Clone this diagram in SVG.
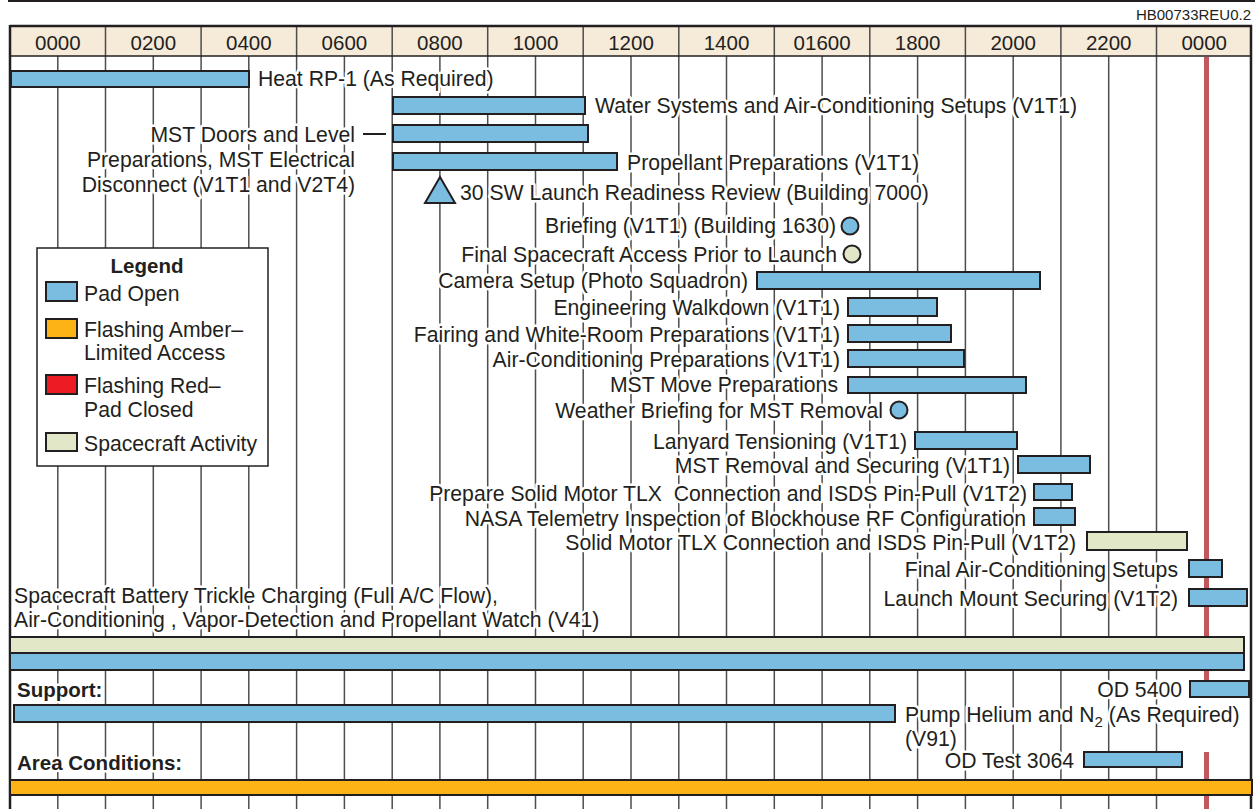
<svg xmlns="http://www.w3.org/2000/svg" width="1255" height="809" viewBox="0 0 1255 809">
<style>
.t{font-family:"Liberation Sans",Arial,Helvetica,sans-serif;font-size:21.2px;fill:#231f20;stroke:#fff;stroke-width:5px;paint-order:stroke;stroke-linejoin:round}
.e{text-anchor:end}
.b{font-weight:bold;font-size:20.5px}
.h{font-family:"Liberation Sans",Arial,Helvetica,sans-serif;font-size:20.5px;fill:#231f20;text-anchor:middle}
.g{stroke:#4d4d4d;stroke-width:1.5}
.bar{stroke:#231f20;stroke-width:2}
.bl{fill:#7abde0}
.gr{fill:#e1e7c7}
.am{fill:#fcb316}
.rd{fill:#ed1c24}
</style>
<rect width="1255" height="809" fill="#fff"/>
<line x1="8" y1="1" x2="1255" y2="1" stroke="#231f20" stroke-width="2"/>
<text x="1251" y="20" style="font-family:'Liberation Sans',Arial,sans-serif;font-size:15px;fill:#231f20" text-anchor="end">HB00733REU0.2</text>
<g id="grid">
<rect x="10" y="26" width="1242" height="30" fill="#f6ead9"/>
<g class="g">
<line x1="57.8" y1="56" x2="57.8" y2="809"/><line x1="105.5" y1="26" x2="105.5" y2="809"/><line x1="153.3" y1="56" x2="153.3" y2="809"/><line x1="201.1" y1="26" x2="201.1" y2="809"/><line x1="248.8" y1="56" x2="248.8" y2="809"/><line x1="296.6" y1="26" x2="296.6" y2="809"/><line x1="344.4" y1="56" x2="344.4" y2="809"/><line x1="392.2" y1="26" x2="392.2" y2="809"/><line x1="439.9" y1="56" x2="439.9" y2="809"/><line x1="487.7" y1="26" x2="487.7" y2="809"/><line x1="535.5" y1="56" x2="535.5" y2="809"/><line x1="583.2" y1="26" x2="583.2" y2="809"/><line x1="631" y1="56" x2="631" y2="809"/><line x1="678.8" y1="26" x2="678.8" y2="809"/><line x1="726.5" y1="56" x2="726.5" y2="809"/><line x1="774.3" y1="26" x2="774.3" y2="809"/><line x1="822.1" y1="56" x2="822.1" y2="809"/><line x1="869.8" y1="26" x2="869.8" y2="809"/><line x1="917.6" y1="56" x2="917.6" y2="809"/><line x1="965.4" y1="26" x2="965.4" y2="809"/><line x1="1013.2" y1="56" x2="1013.2" y2="809"/><line x1="1060.9" y1="26" x2="1060.9" y2="809"/><line x1="1108.7" y1="56" x2="1108.7" y2="809"/><line x1="1156.5" y1="26" x2="1156.5" y2="809"/>
</g>
<line x1="10" y1="56" x2="1252" y2="56" stroke="#231f20" stroke-width="1.5"/>
<line x1="10" y1="26" x2="1252" y2="26" stroke="#231f20" stroke-width="2.5"/>
<line x1="10" y1="25" x2="10" y2="809" stroke="#231f20" stroke-width="2.5"/>
<line x1="1251" y1="25" x2="1251" y2="809" stroke="#231f20" stroke-width="2.5"/>
<text class="h" x="57.8" y="50">0000</text><text class="h" x="153.3" y="50">0200</text><text class="h" x="248.8" y="50">0400</text><text class="h" x="344.4" y="50">0600</text><text class="h" x="439.9" y="50">0800</text><text class="h" x="535.5" y="50">1000</text><text class="h" x="631" y="50">1200</text><text class="h" x="726.5" y="50">1400</text><text class="h" x="822.1" y="50">01600</text><text class="h" x="917.6" y="50">1800</text><text class="h" x="1013.2" y="50">2000</text><text class="h" x="1108.7" y="50">2200</text><text class="h" x="1204.2" y="50">0000</text>
<line x1="1206.5" y1="57" x2="1206.5" y2="697" stroke="#c1575f" stroke-width="5"/>
<line x1="1206.5" y1="752" x2="1206.5" y2="809" stroke="#c1575f" stroke-width="5"/>
</g>
<g id="n-heat"><rect class="bar bl" x="11" y="71" width="238" height="16"/><text class="t" x="258" y="86">Heat RP-1 (As Required)</text></g>
<g id="n-water"><rect class="bar bl" x="393" y="97" width="192" height="17"/><text class="t" x="595" y="113">Water Systems and Air-Conditioning Setups (V1T1)</text></g>
<g id="n-mstdoors"><rect class="bar bl" x="393" y="125" width="195" height="17"/><line x1="363" y1="134" x2="386" y2="134" stroke="#231f20" stroke-width="2"/><text class="t e" x="355" y="142">MST Doors and Level</text><text class="t e" x="355" y="167">Preparations, MST Electrical</text><text class="t e" x="355" y="192">Disconnect (V1T1 and V2T4)</text></g>
<g id="n-prop"><rect class="bar bl" x="393" y="153" width="224" height="17"/><text class="t" x="627" y="170">Propellant Preparations (V1T1)</text></g>
<g id="n-30sw"><polygon class="bar bl" points="440,177 455,203 425,203"/><text class="t" x="460" y="200">30 SW Launch Readiness Review (Building 7000)</text></g>
<g id="n-brief"><circle class="bar bl" cx="850" cy="226" r="8.5"/><text class="t e" x="836" y="233">Briefing (V1T1) (Building 1630)</text></g>
<g id="n-final"><circle class="bar gr" cx="852" cy="254" r="8.5"/><text class="t e" x="837" y="262">Final Spacecraft Access Prior to Launch</text></g>
<g id="n-camera"><rect class="bar bl" x="757" y="272" width="283" height="17"/><text class="t e" x="748" y="288">Camera Setup (Photo Squadron)</text></g>
<g id="n-eng"><rect class="bar bl" x="848" y="298" width="89" height="18"/><text class="t e" x="840" y="315">Engineering Walkdown (V1T1)</text></g>
<g id="n-fair"><rect class="bar bl" x="848" y="325" width="103" height="17"/><text class="t e" x="840" y="342">Fairing and White-Room Preparations (V1T1)</text></g>
<g id="n-aircond"><rect class="bar bl" x="848" y="350" width="116" height="17"/><text class="t e" x="840" y="367">Air-Conditioning Preparations (V1T1)</text></g>
<g id="n-mstmove"><rect class="bar bl" x="848" y="377" width="178" height="16"/><text class="t e" x="838" y="392">MST Move Preparations</text></g>
<g id="n-weather"><circle class="bar bl" cx="899" cy="410" r="8.5"/><text class="t e" x="883" y="418">Weather Briefing for MST Removal</text></g>
<g id="n-lanyard"><rect class="bar bl" x="915" y="432" width="102" height="17"/><text class="t e" x="907" y="449">Lanyard Tensioning (V1T1)</text></g>
<g id="n-mstrem"><rect class="bar bl" x="1018" y="456" width="72" height="17"/><text class="t e" x="1010" y="473">MST Removal and Securing (V1T1)</text></g>
<g id="n-prepsolid"><rect class="bar bl" x="1034" y="484" width="38" height="16"/><text class="t e" x="1027" y="501" style="white-space:pre">Prepare Solid Motor TLX  Connection and ISDS Pin-Pull (V1T2)</text></g>
<g id="n-nasa"><rect class="bar bl" x="1034" y="508" width="41" height="17"/><text class="t e" x="1026" y="526">NASA Telemetry Inspection of Blockhouse RF Configuration</text></g>
<g id="n-solid"><rect class="bar gr" x="1087" y="532" width="100" height="18"/><text class="t e" x="1076" y="550">Solid Motor TLX Connection and ISDS Pin-Pull (V1T2)</text></g>
<g id="n-finalair"><rect class="bar bl" x="1189" y="560" width="33" height="17"/><text class="t e" x="1178" y="577">Final Air-Conditioning Setups</text></g>
<g id="n-launch"><rect class="bar bl" x="1189" y="589" width="58" height="17"/><text class="t e" x="1178" y="606">Launch Mount Securing (V1T2)</text></g>
<g id="n-battery"><text class="t" x="14" y="603">Spacecraft Battery Trickle Charging (Full A/C Flow),</text><text class="t" x="14" y="627">Air-Conditioning , Vapor-Detection and Propellant Watch (V41)</text></g>
<g id="n-fullbars"><rect class="bar gr" x="10" y="637" width="1234" height="16"/><rect class="bar bl" x="10" y="653" width="1234" height="17"/></g>
<g id="n-support"><text class="t b" x="17" y="697">Support:</text></g>
<g id="n-od5400"><rect class="bar bl" x="1190" y="681" width="59" height="16"/><text class="t e" x="1182" y="697">OD 5400</text></g>
<g id="n-pump"><rect class="bar bl" x="14" y="705" width="881" height="17"/><text class="t" x="905" y="722">Pump Helium and N<tspan font-size="15" dy="5">2</tspan><tspan dy="-5"> (As Required)</tspan></text><text class="t" x="905" y="746">(V91)</text></g>
<g id="n-area"><text class="t b" x="17" y="770">Area Conditions:</text></g>
<g id="n-odtest"><rect class="bar bl" x="1084" y="752" width="98" height="15"/><text class="t e" x="1074" y="768">OD Test 3064</text></g>
<g id="n-amber"><rect class="bar am" x="10" y="780" width="1242" height="15"/></g>
<g id="legend">
<rect x="37" y="248" width="231" height="218" fill="#fff" stroke="#231f20" stroke-width="1.5"/>
<text class="t b" x="147" y="273" text-anchor="middle" style="stroke:none">Legend</text>
<rect class="bar bl" x="46" y="282" width="31" height="19"/><text class="t" x="84" y="301">Pad Open</text>
<rect class="bar am" x="46" y="319" width="31" height="19"/><text class="t" x="84" y="337">Flashing Amber–</text><text class="t" x="84" y="360">Limited Access</text>
<rect class="bar rd" x="46" y="375" width="31" height="19"/><text class="t" x="84" y="393">Flashing Red–</text><text class="t" x="84" y="417">Pad Closed</text>
<rect class="bar gr" x="46" y="433" width="31" height="18"/><text class="t" x="84" y="451">Spacecraft Activity</text>
</g>
</svg>
